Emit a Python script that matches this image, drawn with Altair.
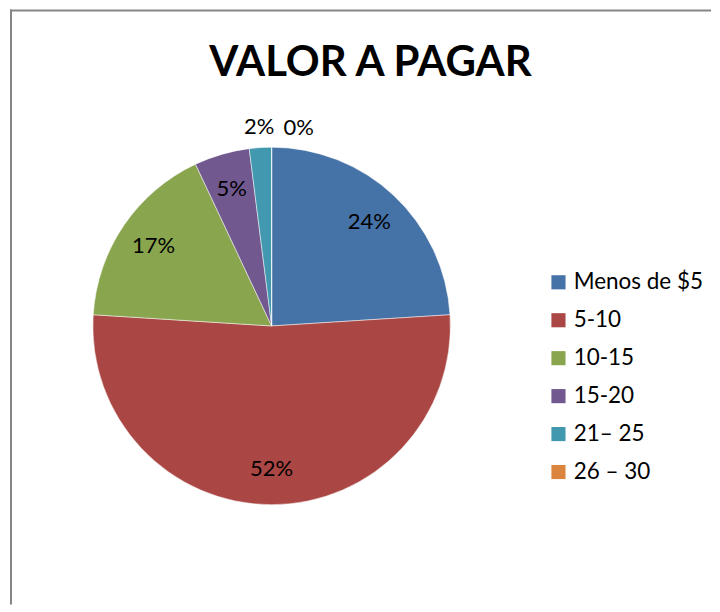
import altair as alt
import pandas as pd

categories = ["Menos de $5", "\u00a05-10", "10-15", "15-20", "21\u2013 25", "26 \u2013 30"]
values = [24, 52, 17, 5, 2, 0]
colors = ["#4572A7", "#AA4643", "#89A54E", "#71588F", "#4198AF", "#DB843D"]
title_text = "VALOR A PAGAR"

df = pd.DataFrame({"cat": categories, "val": values, "idx": list(range(len(values)))})

FONT = "Lato"
CX, CY, R = 264, 317, 179

base = alt.Chart(df).transform_window(
    cum="sum(val)", sort=[alt.SortField("idx")]
).transform_calculate(
    mid="datum.cum - datum.val / 2", label="datum.val + '%'"
)

color = alt.Color(
    "cat:N",
    scale=alt.Scale(domain=categories, range=colors),
    sort=categories,
    legend=alt.Legend(
        title=None, orient="none", legendX=540, legendY=262,
        symbolType="square", symbolSize=200, symbolStrokeWidth=0,
        labelFont=FONT, labelFontSize=22.5, labelColor="#000000",
        rowPadding=15, labelOffset=4,
    ),
)

pie = alt.Chart(df).mark_arc(stroke="#ffffff", strokeWidth=0.5).encode(
    theta=alt.Theta("val:Q", stack=True),
    order=alt.Order("idx:Q"),
    color=color,
    x=alt.value(CX), y=alt.value(CY), radius=alt.value(R),
)

theta_mid = alt.Theta("mid:Q", scale=alt.Scale(domain=[0, 100], range=[0, 6.283185307]), stack=None)

inner = base.transform_filter("datum.val >= 5").mark_text(
    font=FONT, fontSize=22, color="#000000", align="center", baseline="middle"
).encode(theta=theta_mid, radius=alt.value(143), text="label:N",
         x=alt.value(CX), y=alt.value(CY))

outer2 = base.transform_filter("datum.val > 0 && datum.val < 5").mark_text(
    font=FONT, fontSize=22, color="#000000", align="center", baseline="middle"
).encode(theta=theta_mid, radius=alt.value(200), text="label:N",
         x=alt.value(CX), y=alt.value(CY))

outer0 = base.transform_filter("datum.val == 0").mark_text(
    font=FONT, fontSize=22, color="#000000", align="center", baseline="middle", dx=27
).encode(theta=theta_mid, radius=alt.value(198), text="label:N",
         x=alt.value(CX), y=alt.value(CY))

title = alt.Chart(pd.DataFrame({"t": [title_text]})).mark_text(
    font=FONT, fontSize=42, fontWeight="bold", color="#000000",
    align="center", baseline="alphabetic"
).encode(text="t:N", x=alt.value(363), y=alt.value(67))

frame_left = alt.Chart(pd.DataFrame({"a": [0]})).mark_rule(color="#868686", strokeWidth=2).encode(
    x=alt.value(3), y=alt.value(0), y2=alt.value(596))
frame_top = alt.Chart(pd.DataFrame({"a": [0]})).mark_rule(color="#868686", strokeWidth=2).encode(
    x=alt.value(2), x2=alt.value(704), y=alt.value(1))

chart = alt.layer(pie, inner, outer2, outer0, title, frame_left, frame_top).properties(
    width=704, height=596, padding=0
).configure(background="#ffffff").configure_view(stroke=None)

chart.save("out.html", embed_options={"renderer": "svg", "actions": False})
